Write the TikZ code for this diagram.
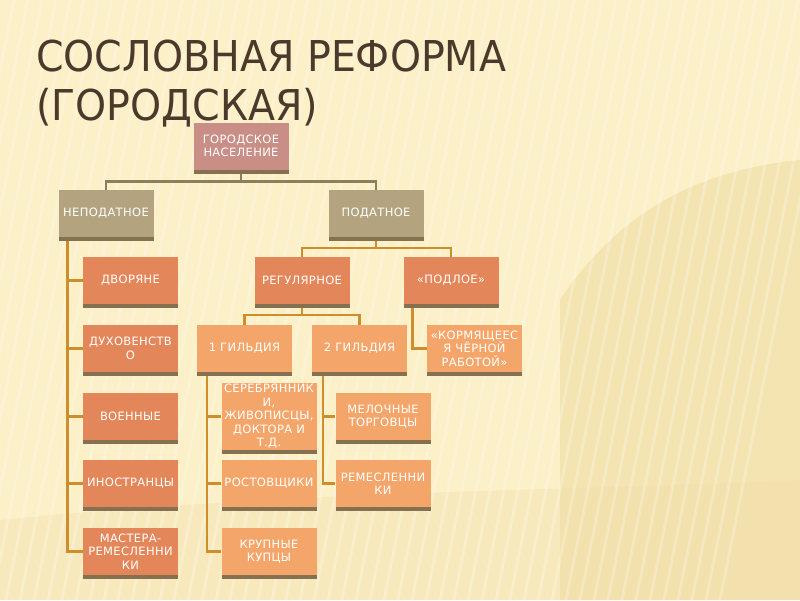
\documentclass[tikz,border=0pt]{standalone}
\usepackage{fontspec}
\setmainfont{DejaVu Sans}
\newfontfamily\titlefont[FakeStretch=0.93]{DejaVu Sans}
\newfontfamily\boxfont[LetterSpace=3]{DejaVu Sans}
\usetikzlibrary{shadows}

\definecolor{bgcream}{HTML}{FCF0C8}
\definecolor{bgdeep}{HTML}{EFDCA3}
\definecolor{titlec}{HTML}{4B3A2B}
\definecolor{rootc}{HTML}{C98F86}
\definecolor{khakic}{HTML}{B3A47F}
\definecolor{darkor}{HTML}{E3875A}
\definecolor{lightor}{HTML}{F4A66A}
\definecolor{shadowc}{HTML}{85704F}
\definecolor{greyline}{HTML}{8F7E5A}
\definecolor{goldline}{HTML}{CF8E2C}

\pgfdeclarelayer{bg}
\pgfdeclarelayer{lines}
\pgfsetlayers{bg,lines,main}

\tikzset{
  box/.style={minimum width=95pt, minimum height=47pt, inner sep=1pt, align=center,
    font=\boxfont\fontsize{11.5}{13.5}\selectfont, text=white,
    drop shadow={shadow xshift=0pt, shadow yshift=-4pt, fill=shadowc, opacity=1}},
  rootbox/.style={box, fill=rootc},
  khakibox/.style={box, fill=khakic},
  orbox/.style={box, fill=darkor},
  litebox/.style={box, fill=lightor},
  greyconn/.style={draw=greyline, line width=2.5pt},
  goldconn/.style={draw=goldline, line width=2.5pt},
}

\begin{document}
\begin{tikzpicture}[x=1pt, y=-1pt]
\useasboundingbox (0,0) rectangle (800,600);
% background
\begin{pgfonlayer}{bg}
\fill[bgcream] (0,0) rectangle (800,600);
\begin{scope}
\clip (0,0) rectangle (800,600);
\fill[bgdeep, opacity=0.6] (800,160) .. controls (700,170) and (620,210) .. (560,300)
  -- (560,600) -- (800,600) -- cycle;
\fill[bgdeep, opacity=0.35] (0,520) .. controls (300,490) and (600,490) .. (800,480)
  -- (800,600) -- (0,600) -- cycle;
\foreach \k in {0,14,...,840}
  \draw[white, opacity=0.25, line width=3pt] (\k,0) -- (\k-120,600);
\end{scope}
\end{pgfonlayer}

% title
\node[anchor=base west, font=\titlefont\fontsize{42.5}{49}\selectfont, text=titlec,
  align=left, inner sep=0pt] (title) at (36,120) {СОСЛОВНАЯ РЕФОРМА\\(ГОРОДСКАЯ)};

% boxes
\node[rootbox] (gorod) at (241,146) {ГОРОДСКОЕ\\НАСЕЛЕНИЕ};
\node[khakibox] (nepod) at (106,213.5) {НЕПОДАТНОЕ};
\node[khakibox] (pod) at (376,213.5) {ПОДАТНОЕ};
\node[orbox] (regul) at (302,280.5) {РЕГУЛЯРНОЕ};
\node[orbox] (podl) at (451,280.5) {«ПОДЛОЕ»};
\node[litebox] (gild1) at (244.5,348.5) {1 ГИЛЬДИЯ};
\node[litebox] (gild2) at (359.5,348.5) {2 ГИЛЬДИЯ};
\node[litebox] (korm) at (474.5,348.5) {«КОРМЯЩЕЕС\\Я ЧЁРНОЙ\\РАБОТОЙ»};

\node[orbox] (dvor) at (130.5,280.5) {ДВОРЯНЕ};
\node[orbox] (duh) at (130.5,348.5) {ДУХОВЕНСТВ\\О};
\node[orbox] (voen) at (130.5,416.5) {ВОЕННЫЕ};
\node[orbox] (inos) at (130.5,483.5) {ИНОСТРАНЦЫ};
\node[orbox] (mast) at (130.5,551.5) {МАСТЕРА-\\РЕМЕСЛЕННИ\\КИ};

\node[litebox] (serebr) at (269,416.5) {СЕРЕБРЯННИК\\И,\\ЖИВОПИСЦЫ,\\ДОКТОРА И\\Т.Д.};
\node[litebox] (rost) at (269,483.5) {РОСТОВЩИКИ};
\node[litebox] (kupcy) at (269,551.5) {КРУПНЫЕ\\КУПЦЫ};

\node[litebox] (meloch) at (383,416.5) {МЕЛОЧНЫЕ\\ТОРГОВЦЫ};
\node[litebox] (remesl) at (383,483.5) {РЕМЕСЛЕННИ\\КИ};

% connectors
\begin{pgfonlayer}{lines}
\draw[greyconn] (gorod.south) -- ++(0,12) -| (nepod.north);
\draw[greyconn] (gorod.south) -- ++(0,12) -| (pod.north);
\draw[goldconn] (pod.south) -- ++(0,11) -| (regul.north);
\draw[goldconn] (pod.south) -- ++(0,11) -| (podl.north);
\draw[goldconn] (regul.south) -- ++(0,11) -| (gild1.north);
\draw[goldconn] (regul.south) -- ++(0,11) -| (gild2.north);
\draw[goldconn] (podl.south west) ++(9,0) |- (korm.west);
\foreach \n in {dvor,duh,voen,inos,mast}
  \draw[goldconn] (nepod.south west) ++(9,0) |- (\n.west);
\foreach \n in {serebr,rost,kupcy}
  \draw[goldconn] (gild1.south west) ++(10,0) |- (\n.west);
\foreach \n in {meloch,remesl}
  \draw[goldconn] (gild2.south west) ++(11,0) |- (\n.west);
\end{pgfonlayer}
\end{tikzpicture}
\end{document}
